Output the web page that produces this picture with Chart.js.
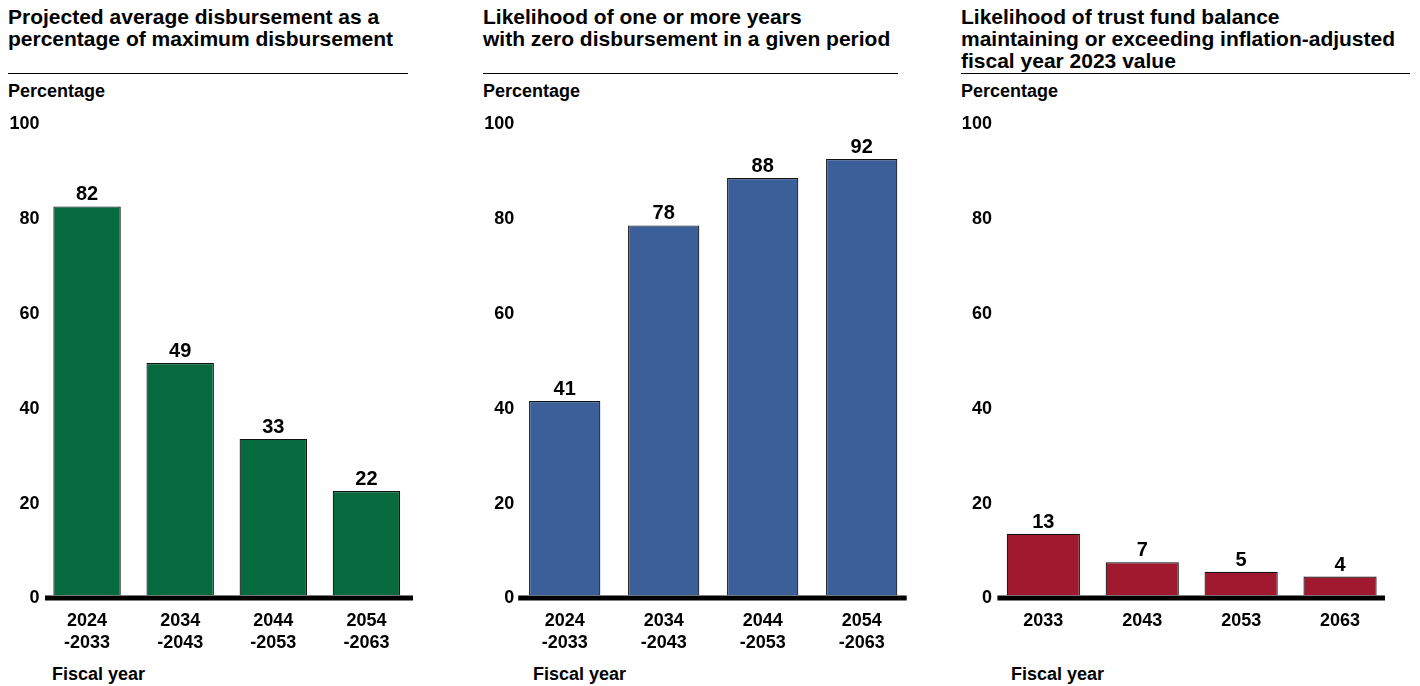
<!DOCTYPE html>
<html>
<head>
<meta charset="utf-8">
<script src="https://cdn.jsdelivr.net/npm/chart.js@4"></script>
<style>
  html, body { margin: 0; padding: 0; background: #fff; }
  body { width: 1420px; height: 686px; position: relative; overflow: hidden;
         font-family: "Liberation Sans", Arial, sans-serif; color: #000; }
  .panel { position: absolute; top: 0; height: 686px; }
  .panel canvas { position: absolute; left: 0; top: 0; }
  .title { position: absolute; top: 6px; font-size: 21px; font-weight: bold; line-height: 22px; white-space: nowrap; }
  .rule { position: absolute; top: 73px; height: 0; border-top: 1.5px solid #000; }
  .unit { position: absolute; top: 81px; font-size: 18px; font-weight: bold; }
  .xtitle { position: absolute; top: 664px; font-size: 18px; font-weight: bold; }
</style>
</head>
<body>

<div class="title" style="left:8px">Projected average disbursement as a<br>percentage of maximum disbursement</div>
<div class="rule" style="left:8px; width:400px"></div>
<div class="unit" style="left:8px">Percentage</div>
<div class="xtitle" style="left:52px">Fiscal year</div>

<div class="title" style="left:483px">Likelihood of one or more years<br>with zero disbursement in a given period</div>
<div class="rule" style="left:483px; width:415px"></div>
<div class="unit" style="left:483px">Percentage</div>
<div class="xtitle" style="left:533px">Fiscal year</div>

<div class="title" style="left:961px">Likelihood of trust fund balance<br>maintaining or exceeding inflation-adjusted<br>fiscal year 2023 value</div>
<div class="rule" style="left:961px; width:449px"></div>
<div class="unit" style="left:961px">Percentage</div>
<div class="xtitle" style="left:1011px">Fiscal year</div>

<div class="panel" style="left:0px; width:420px"><canvas id="c1" width="420" height="686"></canvas></div>
<div class="panel" style="left:470px; width:450px"><canvas id="c2" width="450" height="686"></canvas></div>
<div class="panel" style="left:945px; width:475px"><canvas id="c3" width="475" height="686"></canvas></div>

<script>
// Fiscal-year periods
const periodLabels = [['2024', '-2033'], ['2034', '-2043'], ['2044', '-2053'], ['2054', '-2063']];
const yearLabels = ['2033', '2043', '2053', '2063'];

// Percentages
const avgDisbursement = [82, 49, 33, 22];
const zeroDisbursementLikelihood = [41, 78, 88, 92];
const balanceMaintainedLikelihood = [13, 7, 5, 4];

// Y-axis ticks
const yTicks = [0, 20, 40, 60, 80, 100];

const FONT = '"Liberation Sans", Arial, sans-serif';

// Value labels above each bar
const valueLabels = {
  id: 'valueLabels',
  afterDatasetsDraw(chart) {
    const ctx = chart.ctx;
    const meta = chart.getDatasetMeta(0);
    const data = chart.data.datasets[0].data;
    ctx.save();
    ctx.font = 'bold 20px ' + FONT;
    ctx.fillStyle = '#000';
    ctx.textAlign = 'center';
    ctx.textBaseline = 'alphabetic';
    meta.data.forEach((bar, i) => {
      ctx.fillText(String(data[i]), bar.x, bar.y - 6);
    });
    ctx.restore();
  }
};

// Heavy zero line under the bars
const baseline = {
  id: 'baseline',
  afterDatasetsDraw(chart, args, opts) {
    const ctx = chart.ctx;
    const a = chart.chartArea;
    const y0 = chart.scales.y.getPixelForValue(0);
    ctx.save();
    ctx.strokeStyle = '#000';
    ctx.lineWidth = 5;
    ctx.beginPath();
    ctx.moveTo(a.left + opts.insetLeft, y0 + 2.5);
    ctx.lineTo(a.right - opts.insetRight, y0 + 2.5);
    ctx.stroke();
    ctx.restore();
  }
};

function makeChart(id, labels, values, color, yWidth, padRight, tickPad, barPct, insetLeft, insetRight) {
  return new Chart(document.getElementById(id), {
    type: 'bar',
    data: {
      labels: labels,
      datasets: [{
        data: values,
        backgroundColor: color,
        borderColor: '#111',
        borderWidth: 1.2,
        borderSkipped: 'bottom',
        barPercentage: barPct,
        categoryPercentage: 1.0
      }]
    },
    options: {
      responsive: false,
      animation: false,
      events: [],
      layout: { padding: { top: 121, right: padRight, left: 0, bottom: 0 } },
      plugins: {
        legend: { display: false },
        tooltip: { enabled: false },
        title: { display: false },
        baseline: { insetLeft: insetLeft, insetRight: insetRight }
      },
      scales: {
        x: {
          grid: { display: false, drawTicks: false },
          border: { display: false },
          ticks: {
            color: '#000',
            font: { family: FONT, size: 18, weight: 'bold', lineHeight: 22 / 18 },
            padding: 15,
            maxRotation: 0,
            autoSkip: false
          },
          afterFit(scale) { scale.height = 90.5; }
        },
        y: {
          min: 0,
          max: 100,
          afterBuildTicks(scale) { scale.ticks = yTicks.map(v => ({ value: v })); },
          grid: { display: false, drawTicks: false },
          border: { display: false },
          ticks: {
            color: '#000',
            font: { family: FONT, size: 18, weight: 'bold' },
            padding: tickPad,
            labelOffset: 3
          },
          afterFit(scale) { scale.width = yWidth; }
        }
      }
    },
    plugins: [valueLabels, baseline]
  });
}

makeChart('c1', periodLabels, avgDisbursement, '#056b3f', 40.5, 7, 1, 0.724, 4.5, 0);
makeChart('c2', periodLabels, zeroDisbursementLikelihood, '#3a5f99', 45.2, 8.8, 1, 0.72, 3, 4.5);
makeChart('c3', yearLabels, balanceMaintainedLikelihood, '#a0192f', 48.9, 30.5, 2, 0.74, 3.5, 4.5);
</script>
</body>
</html>
